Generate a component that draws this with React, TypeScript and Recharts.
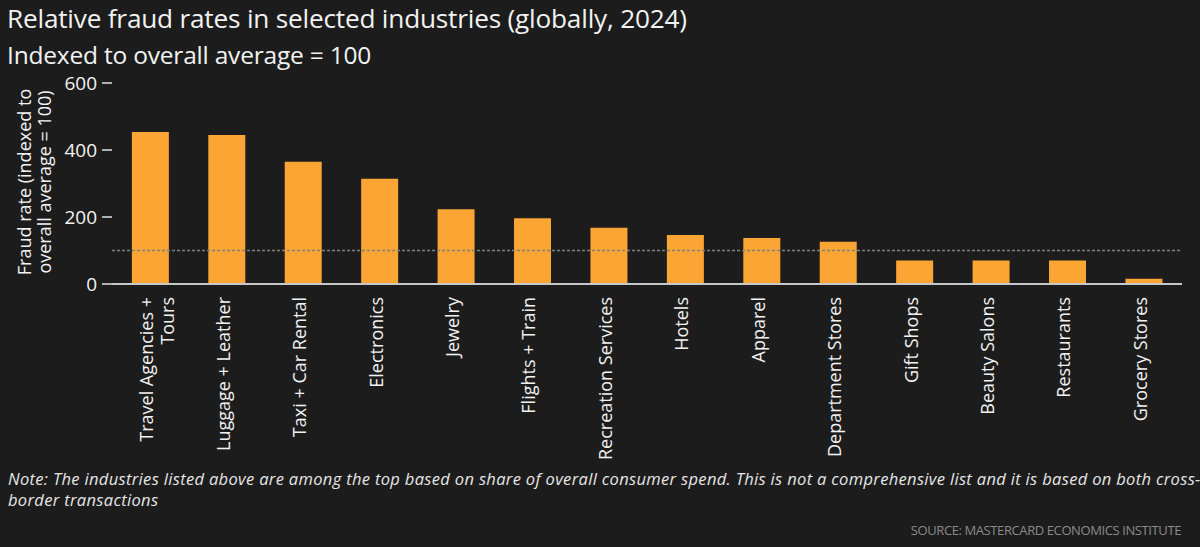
import { BarChart, Bar, XAxis, YAxis, ReferenceLine } from 'recharts';

const categories = [
  'Travel Agencies + Tours',
  'Luggage + Leather',
  'Taxi + Car Rental',
  'Electronics',
  'Jewelry',
  'Flights + Train',
  'Recreation Services',
  'Hotels',
  'Apparel',
  'Department Stores',
  'Gift Shops',
  'Beauty Salons',
  'Restaurants',
  'Grocery Stores',
];
const fraudRates = [454, 445, 365, 314, 223, 196, 168, 146, 137, 126, 70, 70, 70, 16];
const yTicks = [0, 200, 400, 600];
const averageIndex = 100;

const wrapped: Record<string, string[]> = {
  'Travel Agencies + Tours': ['Travel Agencies +', 'Tours'],
};

const data = categories.map((name, i) => ({ name, rate: fraudRates[i] }));

const FONT = '"Open Sans", Lato, sans-serif';
const BG = '#1c1c1c';
const BAR = '#fba535';

function CategoryTick({ x, y, payload }: any) {
  const lines = wrapped[payload.value] || [payload.value];
  return (
    <g transform={`translate(${x},${y + 13})`}>
      <text transform="rotate(-90)" textAnchor="end" fill="#f2f2f2" fontSize={18} fontFamily={FONT}>
        {lines.map((line, i) => (
          <tspan key={i} x={0} y={3 + i * 21}>
            {line}
          </tspan>
        ))}
      </text>
    </g>
  );
}

export default function App() {
  return (
    <div
      style={{
        position: 'absolute',
        left: 0,
        top: 0,
        width: 1200,
        height: 547,
        background: BG,
        fontFamily: FONT,
        color: '#f2f2f2',
        overflow: 'hidden',
      }}
    >
      <div style={{ position: 'absolute', left: 7, top: 0, fontSize: 26.2, whiteSpace: 'nowrap', letterSpacing: -0.2 }}>
        Relative fraud rates in selected industries (globally, 2024)
      </div>
      <div style={{ position: 'absolute', left: 7, top: 38, fontSize: 24.5, whiteSpace: 'nowrap', letterSpacing: -0.2 }}>
        Indexed to overall average = 100
      </div>

      <div style={{ position: 'absolute', left: 0, top: 0 }}>
        <BarChart width={1200} height={547} data={data} margin={{ top: 83, right: 18, bottom: 0, left: 50 }} barCategoryGap="26%">
          <XAxis
            dataKey="name"
            interval={0}
            height={263}
            tickSize={0}
            tickMargin={0}
            tick={<CategoryTick />}
            axisLine={{ stroke: '#c8c8c8', strokeWidth: 2 }}
            tickLine={false}
          />
          <YAxis
            domain={[0, 600]}
            ticks={yTicks}
            width={62}
            axisLine={false}
            tickSize={10}
            tickMargin={5}
            tickLine={{ stroke: '#e0e0e0', strokeWidth: 1.5 }}
            tick={{ fill: '#f2f2f2', fontSize: 19, fontFamily: FONT }}
            label={{
              content: () => (
                <text transform="translate(35,182) rotate(-90)" textAnchor="middle" fill="#f2f2f2" fontSize={18} fontFamily={FONT}>
                  <tspan x={0} y={-4}>Fraud rate (indexed to</tspan>
                  <tspan x={0} y={16}>overall average = 100)</tspan>
                </text>
              ),
            }}
          />
          <ReferenceLine y={averageIndex} stroke="#808080" strokeDasharray="3 2" strokeWidth={1.5} />
          <Bar dataKey="rate" fill={BAR} isAnimationActive={false} />
        </BarChart>
      </div>

      <div style={{ position: 'absolute', left: 8, top: 468, fontSize: 16.5, fontStyle: 'italic', whiteSpace: 'nowrap', lineHeight: '21px', color: '#e6e6e6', letterSpacing: 0.33 }}>
        <div>
          Note: The industries listed above are among the top based on share of overall consumer spend. This is not a comprehensive list and it is based on both cross-
        </div>
        <div>border transactions</div>
      </div>
      <div style={{ position: 'absolute', right: 19, top: 521, fontSize: 13, color: '#8a8a8a', whiteSpace: 'nowrap', letterSpacing: -0.4 }}>
        SOURCE: MASTERCARD ECONOMICS INSTITUTE
      </div>
    </div>
  );
}
